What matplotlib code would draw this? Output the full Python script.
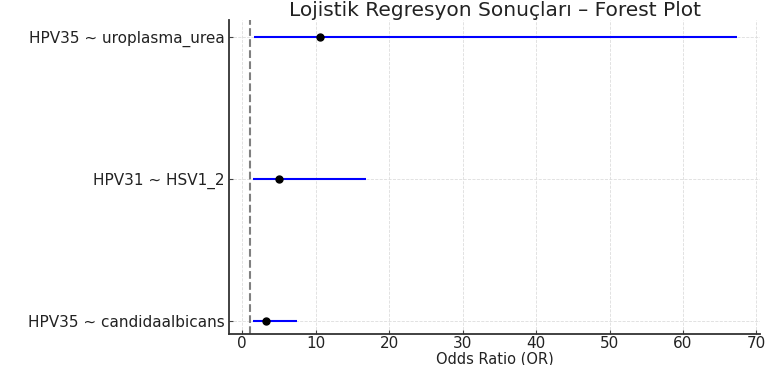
import matplotlib.pyplot as plt
import numpy as np

plt.rcParams["font.family"] = ["DejaVu Sans"]

# Forest plot data
labels = ["HPV35 ~ candidaalbicans", "HPV31 ~ HSV1_2", "HPV35 ~ uroplasma_urea"]
odds_ratio = [3.3, 5.0, 10.6]
ci_low = [1.4, 1.5, 1.6]
ci_high = [7.4, 16.9, 67.3]

fig = plt.figure(figsize=(7.67, 3.65), dpi=100)
ax = fig.add_axes([0.2986, 0.085, 0.6924, 0.86])

y = np.arange(len(labels))
for yi, lo, hi in zip(y, ci_low, ci_high):
    ax.hlines(yi, lo, hi, color="blue", linewidth=1.5, zorder=3)
ax.plot(odds_ratio, y, "o", color="black", markersize=5, zorder=4)

ax.axvline(1, color="gray", linestyle="--", linewidth=1.5, zorder=2)

ax.set_yticks(y)
ax.set_yticklabels(labels, fontsize=11, color="#222222")
ax.set_xticks(np.arange(0, 71, 10))
ax.tick_params(axis="x", labelsize=11, labelcolor="#222222", direction="in",
               length=3, pad=1.5, color="#444444")
ax.tick_params(axis="y", direction="in", length=3, pad=3, color="#444444")
ax.set_xlim(-1.8, 70.5)
ax.set_ylim(-0.09, 2.12)

ax.grid(True, linestyle="--", linewidth=0.6, color="#dddddd", zorder=0)
ax.set_axisbelow(True)
for s in ["top", "right"]:
    ax.spines[s].set_visible(False)
for s in ["left", "bottom"]:
    ax.spines[s].set_linewidth(1.3)
    ax.spines[s].set_color("#333333")

ax.set_xlabel("Odds Ratio (OR)", fontsize=10.5, color="#222222", labelpad=0)
ax.set_title("Lojistik Regresyon Sonuçları – Forest Plot", fontsize=14.5,
             color="#222222", pad=3)

fig.savefig("out.png", dpi=100)
